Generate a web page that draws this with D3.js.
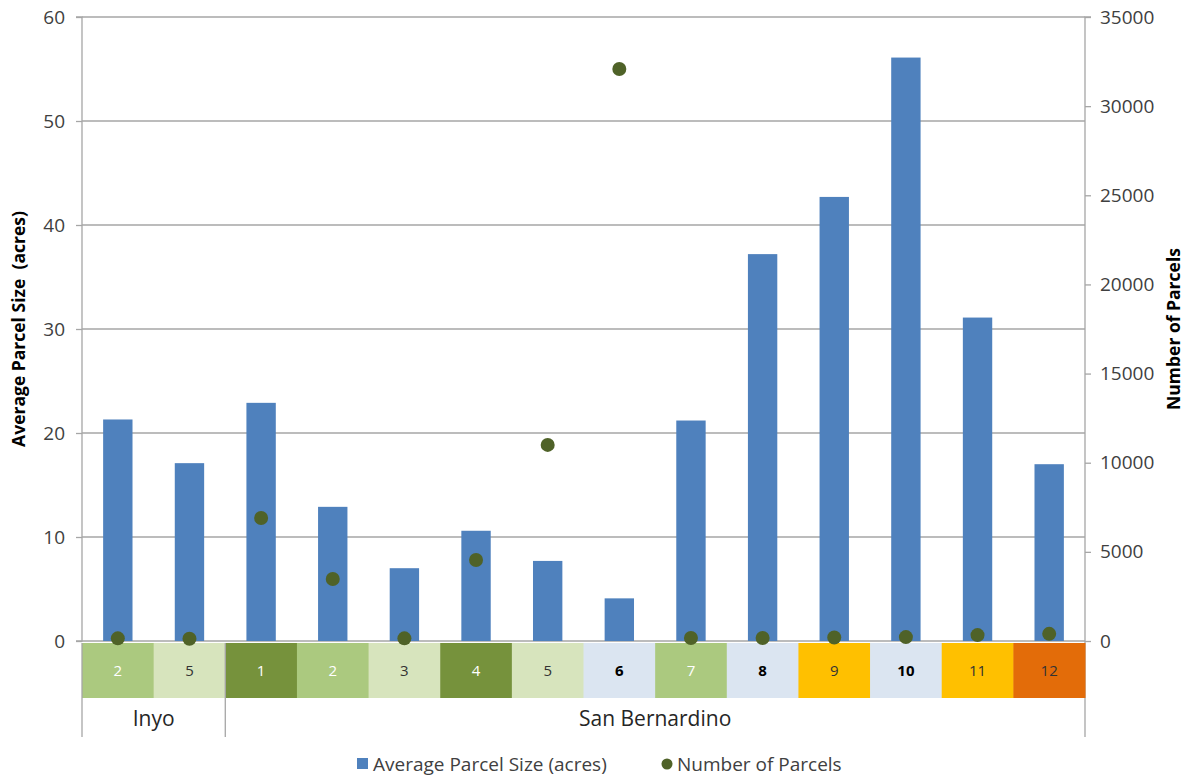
<!DOCTYPE html>
<html>
<head>
<meta charset="utf-8">
<script src="https://cdn.jsdelivr.net/npm/d3@7"></script>
<style>
  html, body { margin: 0; padding: 0; background: #fff; }
  svg { display: block; font-family: "Open Sans", sans-serif; }
</style>
</head>
<body>
<svg id="chart" width="1187" height="777"></svg>
<script>
// Zone labels along the x axis, grouped by county
const counties = ["Inyo", "San Bernardino"];
const zoneLabels = ["2", "5", "1", "2", "3", "4", "5", "6", "7", "8", "9", "10", "11", "12"];
const zoneCounty = ["Inyo", "Inyo", "San Bernardino", "San Bernardino", "San Bernardino", "San Bernardino",
  "San Bernardino", "San Bernardino", "San Bernardino", "San Bernardino", "San Bernardino",
  "San Bernardino", "San Bernardino", "San Bernardino"];
// Zone class used for the coloured label cells
const zoneClass = ["B", "C", "A", "B", "C", "A", "C", "D", "B", "D", "E", "D", "E", "F"];

// Average parcel size (acres) — left axis
const avgParcelSize = [21.3, 17.1, 22.9, 12.9, 7.0, 10.6, 7.7, 4.1, 21.2, 37.2, 42.7, 56.1, 31.1, 17.0];
// Number of parcels — right axis
const numParcels = [150, 130, 6900, 3480, 150, 4540, 11000, 32080, 170, 170, 200, 220, 330, 400];

const leftTicks = [0, 10, 20, 30, 40, 50, 60];
const rightTicks = [0, 5000, 10000, 15000, 20000, 25000, 30000, 35000];

const classFill = { A: "#76923c", B: "#abc97f", C: "#d7e4bd", D: "#dbe5f1", E: "#ffc000", F: "#e36c09" };
const classText = { A: "#ffffff", B: "#ffffff", C: "#333333", D: "#000000", E: "#333333", F: "#333333" };
const classWeight = { A: "normal", B: "normal", C: "normal", D: "bold", E: "normal", F: "normal" };

const svg = d3.select("#chart");
const plotLeft = 82, plotRight = 1085, plotTop = 17, plotBottom = 641;
const gridColor = "#a6a6a6", textColor = "#404040";
const font = "'Open Sans', sans-serif";

const x = d3.scaleBand().domain(d3.range(zoneLabels.length)).range([plotLeft, plotRight]).padding(0);
const yL = d3.scaleLinear().domain([0, 60]).range([plotBottom, plotTop]);
const yR = d3.scaleLinear().domain([0, 35000]).range([plotBottom, plotTop]);

// Horizontal gridlines
svg.append("g").selectAll("line").data(leftTicks.filter(d => d > 0)).join("line")
  .attr("x1", plotLeft).attr("x2", plotRight)
  .attr("y1", d => yL(d)).attr("y2", d => yL(d))
  .attr("stroke", gridColor).attr("stroke-width", 1.3);

// Left axis
const gLeft = svg.append("g").attr("transform", `translate(${plotLeft},0)`)
  .call(d3.axisLeft(yL).tickValues(leftTicks).tickSize(6).tickPadding(11));
gLeft.select(".domain").attr("stroke", gridColor).attr("stroke-width", 1.3).attr("d", `M-6,${plotTop}H0V${plotBottom}H-6`);
gLeft.selectAll(".tick line").attr("stroke", gridColor).attr("stroke-width", 1.3);
gLeft.selectAll(".tick text").attr("fill", textColor).attr("font-size", 19).attr("font-family", font);

// Right axis
const gRight = svg.append("g").attr("transform", `translate(${plotRight},0)`)
  .call(d3.axisRight(yR).tickValues(rightTicks).tickSize(6).tickPadding(9).tickFormat(d3.format("d")));
gRight.select(".domain").attr("stroke", gridColor).attr("stroke-width", 1.3).attr("d", `M6,${plotTop}H0V${plotBottom + 96}`);
gRight.selectAll(".tick line").attr("stroke", gridColor).attr("stroke-width", 1.3);
gRight.selectAll(".tick text").attr("fill", textColor).attr("font-size", 19).attr("font-family", font);

// Baseline
svg.append("line").attr("x1", plotLeft).attr("x2", plotRight).attr("y1", plotBottom).attr("y2", plotBottom)
  .attr("stroke", gridColor).attr("stroke-width", 1.3);

// Bars
const barW = x.bandwidth() * 0.41;
svg.append("g").selectAll("rect").data(avgParcelSize).join("rect")
  .attr("x", (d, i) => x(i) + (x.bandwidth() - barW) / 2)
  .attr("width", barW)
  .attr("y", d => yL(d))
  .attr("height", d => plotBottom - yL(d))
  .attr("fill", "#4f81bd");

// Coloured zone label cells
const cellTop = plotBottom + 2, cellH = 55;
const cells = svg.append("g").selectAll("g").data(zoneLabels).join("g");
cells.append("rect")
  .attr("x", (d, i) => x(i)).attr("y", cellTop)
  .attr("width", x.bandwidth() + 0.5).attr("height", cellH)
  .attr("fill", (d, i) => classFill[zoneClass[i]]);
cells.append("text")
  .attr("x", (d, i) => x(i) + x.bandwidth() / 2).attr("y", cellTop + cellH / 2 + 5)
  .attr("text-anchor", "middle").attr("font-size", 15)
  .attr("fill", (d, i) => classText[zoneClass[i]])
  .attr("font-weight", (d, i) => classWeight[zoneClass[i]])
  .text(d => d);

// Points (right axis)
svg.append("g").selectAll("circle").data(numParcels).join("circle")
  .attr("cx", (d, i) => x(i) + x.bandwidth() / 2)
  .attr("cy", d => yR(d))
  .attr("r", 7)
  .attr("fill", "#4f6228");

// County group row
const groups = counties.map(c => {
  const idx = zoneCounty.map((z, i) => z === c ? i : -1).filter(i => i >= 0);
  return { name: c, x0: x(idx[0]), x1: x(idx[idx.length - 1]) + x.bandwidth() };
});
const groupBottom = 737;
svg.append("g").selectAll("line").data(groups).join("line")
  .attr("x1", d => d.x0).attr("x2", d => d.x0)
  .attr("y1", cellTop).attr("y2", groupBottom)
  .attr("stroke", gridColor).attr("stroke-width", 1.3);
svg.append("g").selectAll("text").data(groups).join("text")
  .attr("x", d => (d.x0 + d.x1) / 2).attr("y", 726)
  .attr("text-anchor", "middle").attr("font-size", 21).attr("fill", "#262626")
  .text(d => d.name);

// Axis titles
svg.append("text")
  .attr("transform", `translate(25,${(plotTop + plotBottom) / 2}) rotate(-90)`)
  .attr("text-anchor", "middle").attr("font-size", 17.5).attr("font-weight", "bold").attr("fill", "#000")
  .style("white-space", "pre")
  .text("Average Parcel Size  (acres)");
svg.append("text")
  .attr("transform", `translate(1180,${(plotTop + plotBottom) / 2}) rotate(-90)`)
  .attr("text-anchor", "middle").attr("font-size", 17.5).attr("font-weight", "bold").attr("fill", "#000")
  .text("Number of Parcels");

// Legend
const legend = svg.append("g").attr("font-size", 19).attr("fill", textColor);
legend.append("rect").attr("x", 357).attr("y", 758).attr("width", 11).attr("height", 11).attr("fill", "#4f81bd");
legend.append("text").attr("x", 373).attr("y", 771).attr("fill", textColor).text("Average Parcel Size (acres)");
legend.append("circle").attr("cx", 667).attr("cy", 764).attr("r", 5.5).attr("fill", "#4f6228");
legend.append("text").attr("x", 677).attr("y", 771).attr("fill", textColor).text("Number of Parcels");
</script>
</body>
</html>
